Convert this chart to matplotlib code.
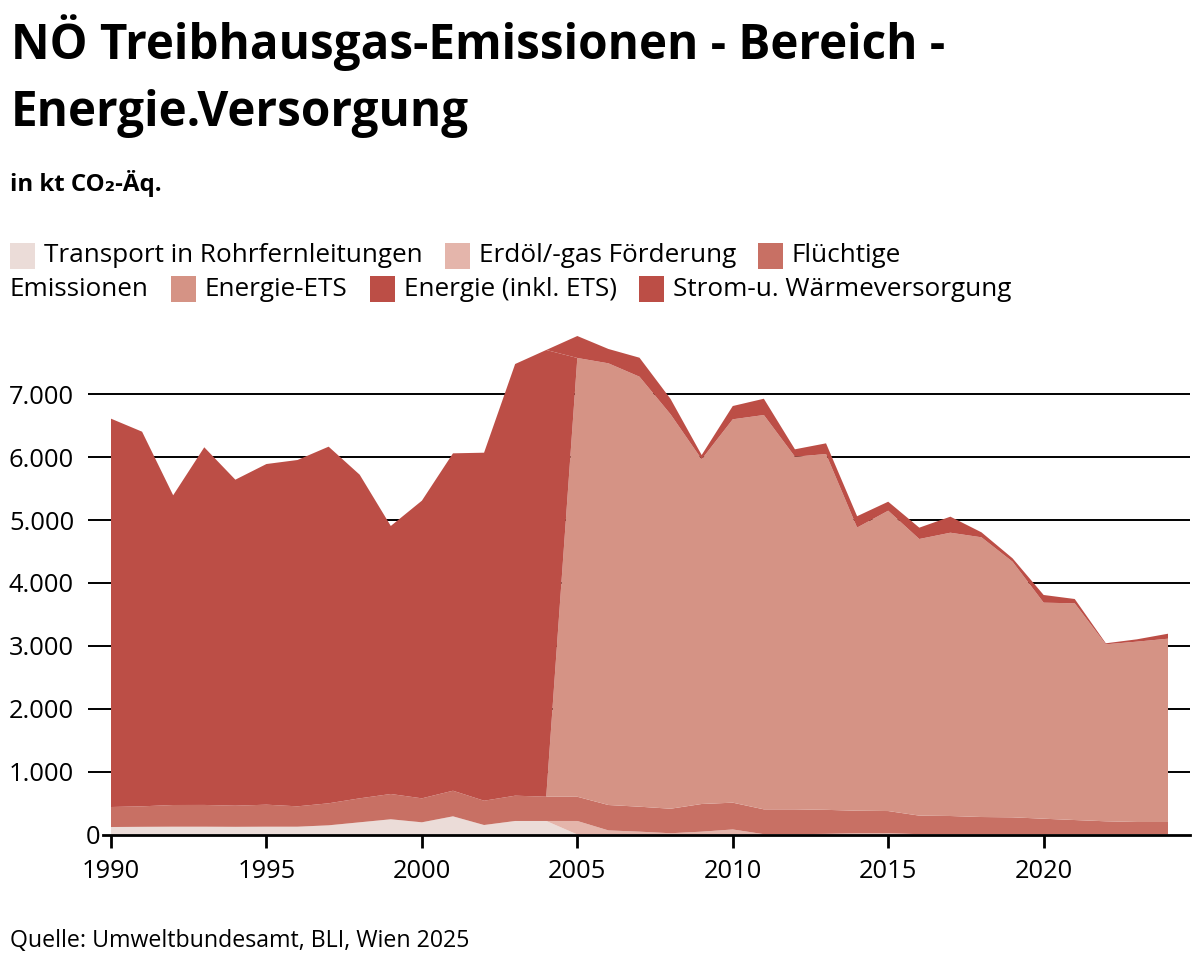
import matplotlib
matplotlib.use("Agg")
import matplotlib.pyplot as plt
from matplotlib.patches import Rectangle
from matplotlib.transforms import ScaledTranslation

# ---------------- data (kt CO2-Äq.) ----------------
years = list(range(1990, 2025))

transport = [119, 122, 124, 124, 122, 124, 124, 146, 194, 242, 194, 289, 151, 215, 215,
             0, 0, 0, 0, 0, 0, 0, 0, 0, 0, 0, 0, 0, 0, 0, 0, 0, 0, 0, 0]
erdoel = [0, 0, 0, 0, 0, 0, 0, 0, 0, 0, 0, 0, 0, 0, 0,
          215, 65, 45, 20, 45, 80, 5, 5, 10, 20, 20, 5, 2, 2, 2, 2, 2, 2, 2, 2]
fluechtige = [318, 326, 345, 346, 336, 350, 324, 350, 381, 402, 381, 407, 386, 402, 386,
              385, 404, 397, 390, 440, 426, 395, 395, 382, 358, 353, 295, 292, 276, 271,
              249, 228, 208, 197, 197]
energie_ets = [0, 0, 0, 0, 0, 0, 0, 0, 0, 0, 0, 0, 0, 0, 0,
               6976, 7022, 6836, 6270, 5480, 6095, 6269, 5606, 5657, 4502, 4775, 4398,
               4504, 4447, 4064, 3435, 3445, 2814, 2867, 2914]
energie_inkl = [6174, 5956, 4924, 5686, 5183, 5416, 5506, 5670, 5145, 4261, 4732, 5364,
                5533, 6863, 7102,
                0, 0, 0, 0, 0, 0, 0, 0, 0, 0, 0, 0, 0, 0, 0, 0, 0, 0, 0, 0]
strom = [0, 0, 0, 0, 0, 0, 0, 0, 0, 0, 0, 0, 0, 0, 0,
         349, 228, 302, 244, 68, 211, 259, 118, 170, 180, 143, 180, 255, 79, 54,
         122, 69, 16, 37, 79]

series_labels = ["Transport in Rohrfernleitungen", "Erdöl/-gas Förderung",
                 "Flüchtige Emissionen", "Energie-ETS", "Energie (inkl. ETS)",
                 "Strom-u. Wärmeversorgung"]
colors = ["#ebdcd8", "#e4b5ab", "#c87064", "#d59385", "#bc4e46", "#bc4e46"]

yticks = [0, 1000, 2000, 3000, 4000, 5000, 6000, 7000]
ytick_labels = ["0", "1.000", "2.000", "3.000", "4.000", "5.000", "6.000", "7.000"]
xticks = [1990, 1995, 2000, 2005, 2010, 2015, 2020]
xtick_labels = ["1990", "1995", "2000", "2005", "2010", "2015", "2020"]

title_l1 = "NÖ Treibhausgas-Emissionen - Bereich -"
title_l2 = "Energie.Versorgung"
subtitle = "in kt CO₂-Äq."
source = "Quelle: Umweltbundesamt, BLI, Wien 2025"

# ---------------- figure ----------------
FONT = ["Open Sans", "DejaVu Sans"]
plt.rcParams["font.family"] = FONT

W, H = 1200, 968
fig = plt.figure(figsize=(W / 100, H / 100), dpi=100)
renderer = fig.canvas.get_renderer()


def text_width(s, fs, weight="normal"):
    t = fig.text(0, 0, s, fontsize=fs, fontweight=weight)
    w = t.get_window_extent(renderer).width
    t.remove()
    return w


def fit_size(s, target_px, base=20, weight="normal"):
    return base * target_px / text_width(s, base, weight)


px_per_year = 31.09
ax_left_px, ax_right_px = 88, 1190
x0 = 1990 - (111 - ax_left_px) / px_per_year
x1 = 2024 + (ax_right_px - 1168) / px_per_year
y_zero_px = 834.5
px_per_k = 62.9
ymax = 8000
y_top_px = y_zero_px - ymax / 1000 * px_per_k

ax = fig.add_axes([ax_left_px / W, 1 - y_zero_px / H,
                   (ax_right_px - ax_left_px) / W, (y_zero_px - y_top_px) / H])
ax.set_xlim(x0, x1)
ax.set_ylim(0, ymax)

ax.stackplot(years, transport, erdoel, fluechtige, energie_ets, energie_inkl, strom,
             colors=colors, linewidth=0, zorder=2)

TICK_FS = fit_size("7.000", 65)

ax.set_axisbelow(True)
ax.set_yticks(yticks)
ax.set_yticklabels(ytick_labels)
ax.yaxis.grid(True, color="black", linewidth=1.4)
ax.yaxis.get_gridlines()[0].set_visible(False)
ax.tick_params(axis="y", length=0, pad=10, labelsize=TICK_FS)
for lab in ax.get_yticklabels():
    lab.set_horizontalalignment("right")
    if lab.get_text() == "0":
        lab.set_transform(lab.get_transform() + ScaledTranslation(26 / 100, 0, fig.dpi_scale_trans))

ax.set_xticks(xticks)
ax.set_xticklabels(xtick_labels)
ax.tick_params(axis="x", length=9, width=2, pad=9, labelsize=TICK_FS, direction="out")

for s in ["top", "right", "left"]:
    ax.spines[s].set_visible(False)
ax.spines["bottom"].set_linewidth(2)
ax.spines["bottom"].set_zorder(3)
ax.spines["bottom"].set_bounds(1990 - 8 / px_per_year, x1)

# ---------------- texts ----------------
TITLE_FS = fit_size(title_l1, 934, weight="bold")
fig.text(11 / W, 1 - 59 / H, title_l1, fontsize=TITLE_FS, fontweight="bold", va="baseline", ha="left")
fig.text(11 / W, 1 - 126.5 / H, title_l2, fontsize=TITLE_FS, fontweight="bold", va="baseline", ha="left")
fig.text(10 / W, 1 - 191 / H, subtitle, fontsize=fit_size(subtitle, 152, weight="bold"),
         fontweight="bold", va="baseline", ha="left")
fig.text(10 / W, 1 - 947 / H, source, fontsize=fit_size(source, 460), va="baseline", ha="left")

# ---------------- legend (two flowing lines) ----------------
LEG_FS = fit_size(series_labels[0], 379)
sq_w, sq_h = 25, 26
sq_gap = 9
item_gap = 22

lines = [
    [(colors[0], series_labels[0]), (colors[1], series_labels[1]), (colors[2], "Flüchtige")],
    [(None, "Emissionen"), (colors[3], series_labels[3]), (colors[4], series_labels[4]),
     (colors[5], series_labels[5])],
]
line_y = [256, 289]
for items, yc in zip(lines, line_y):
    x = 10
    for col, txt in items:
        if col is not None:
            fig.patches.append(Rectangle((x / W, 1 - (yc + sq_h / 2) / H), sq_w / W, sq_h / H,
                                         transform=fig.transFigure, facecolor=col,
                                         edgecolor="none"))
            x += sq_w + sq_gap
        fig.text(x / W, 1 - yc / H, txt, fontsize=LEG_FS, va="center", ha="left")
        x += text_width(txt, LEG_FS) + item_gap

fig.savefig("out.png", dpi=100)
